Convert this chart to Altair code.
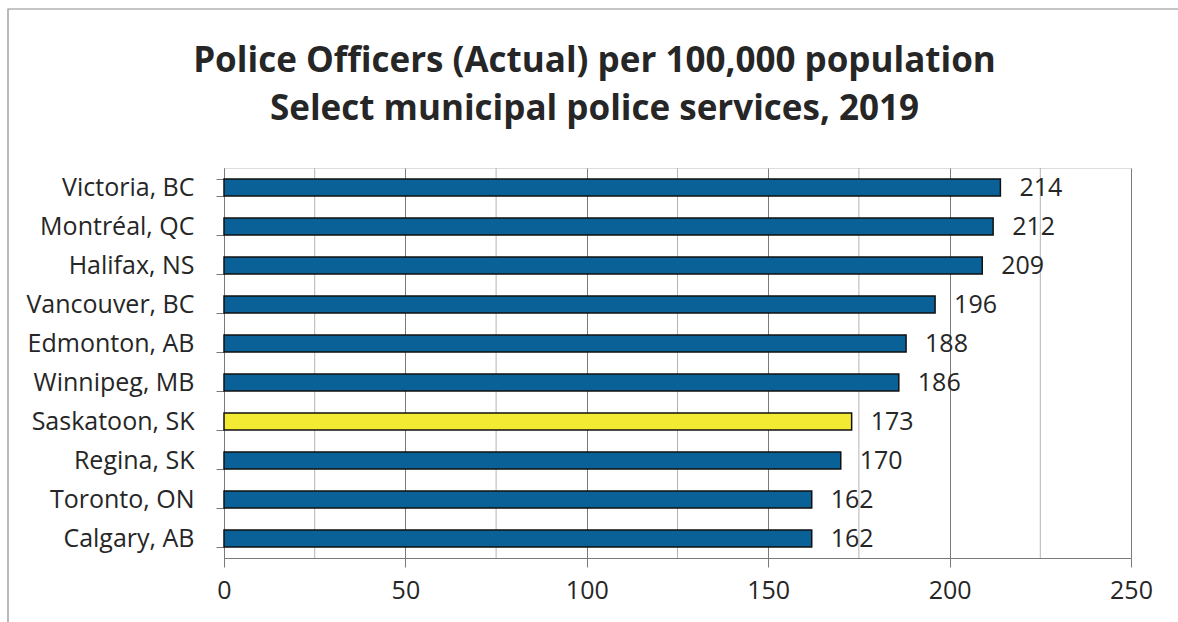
import altair as alt
import pandas as pd

cities = ["Victoria, BC", "Montréal, QC", "Halifax, NS", "Vancouver, BC", "Edmonton, AB",
          "Winnipeg, MB", "Saskatoon, SK", "Regina, SK", "Toronto, ON", "Calgary, AB"]
values = [214, 212, 209, 196, 188, 186, 173, 170, 162, 162]
highlight = ["Saskatoon, SK"]
major_ticks = [0, 50, 100, 150, 200, 250]
minor_ticks = [25, 75, 125, 175, 225]

df = pd.DataFrame({"city": cities, "value": values})
df["hl"] = df["city"].isin(highlight)
minor_df = pd.DataFrame({"v": minor_ticks})

FONT = "Open Sans"
TFONT = "Open Sans"
TXT = "#262626"
W, H = 907, 390

xscale = alt.Scale(domain=[0, 250], nice=False, zero=True)
yscale = alt.Scale(domain=cities, paddingInner=0.56, paddingOuter=0.28)

minor = alt.Chart(minor_df).mark_rule(color="#b4b4b4", strokeWidth=1).encode(
    x=alt.X("v:Q", scale=xscale),
)

bars = alt.Chart(df).mark_bar(stroke="#111111", strokeWidth=1.5, cornerRadius=0).encode(
    x=alt.X("value:Q", scale=xscale,
            axis=alt.Axis(values=major_ticks, title=None, grid=True, gridColor="#7a7a7a",
                          gridWidth=1, domainColor="#7a7a7a", tickColor="#7a7a7a",
                          tickSize=9, labelPadding=11, labelFontSize=25, labelFont=FONT,
                          labelColor=TXT, labelFlush=False)),
    y=alt.Y("city:N", scale=yscale, sort=cities,
            axis=alt.Axis(title=None, tickBand="extent", tickSize=8, tickColor="#7a7a7a",
                          domainColor="#7a7a7a", labelPadding=22, labelFontSize=25,
                          labelFont=FONT, labelColor=TXT, grid=False)),
    color=alt.Color("hl:N", scale=alt.Scale(domain=[False, True], range=["#0a6197", "#f3ea34"]),
                    legend=None),
)

labels = alt.Chart(df).mark_text(align="left", baseline="middle", dx=19, fontSize=25,
                                 font=FONT, color=TXT).encode(
    x=alt.X("value:Q", scale=xscale),
    y=alt.Y("city:N", scale=yscale, sort=cities),
    text=alt.Text("value:Q"),
)

border = alt.Chart(pd.DataFrame({"a": [0]})).mark_rect(
    fill=None, stroke="#8c8c8c", strokeWidth=1.2, clip=False
).encode(
    x=alt.value(-216), x2=alt.value(980), y=alt.value(-159), y2=alt.value(480)
)

chart = alt.layer(border, minor, bars, labels).properties(
    width=W, height=H,
    title=alt.TitleParams(
        text=["Police Officers (Actual) per 100,000 population",
              "Select municipal police services, 2019"],
        font=TFONT, fontSize=35, fontWeight="bold", color=TXT, anchor="middle",
        dx=-83, offset=-119, lineHeight=48,
    ),
    autosize=alt.AutoSizeParams(type="none"),
    padding={"left": 224, "top": 168, "right": 47, "bottom": 64},
).configure_view(
    fill="#d9d9d9", stroke=None
).configure(background="white")

chart.save("out.html", embed_options={"renderer": "svg", "actions": False})
